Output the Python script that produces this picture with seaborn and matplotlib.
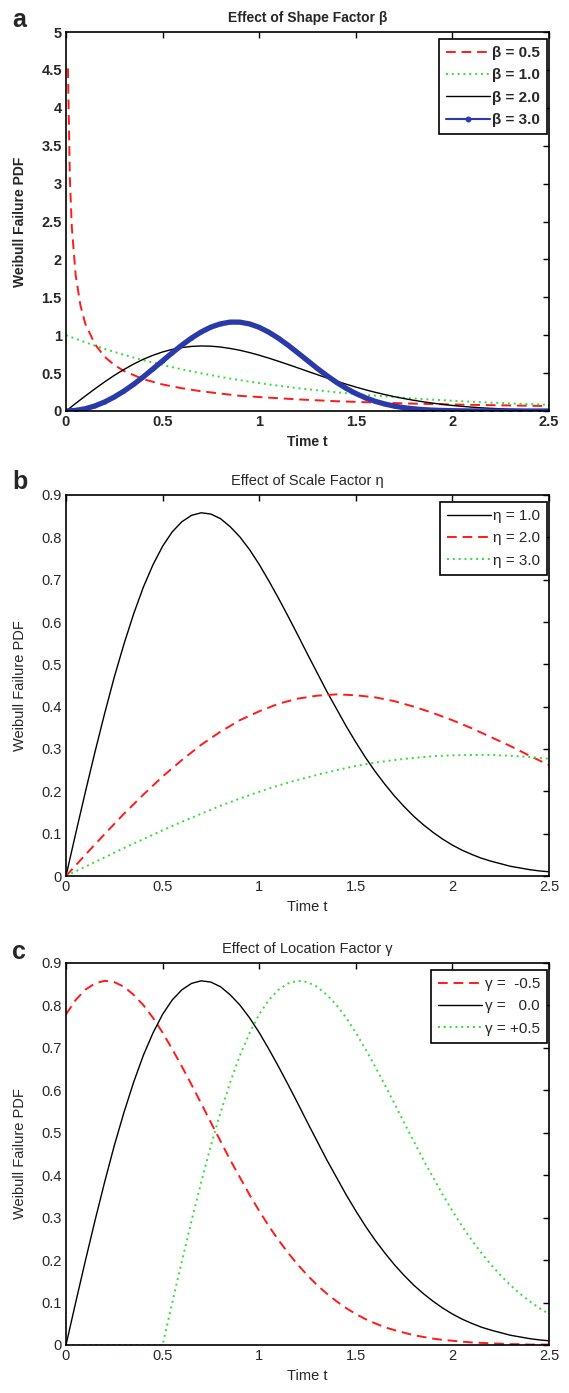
import matplotlib
matplotlib.use("Agg")
import matplotlib.pyplot as plt
import seaborn as sns
import numpy as np
from matplotlib.ticker import FuncFormatter

sns.set_style("white")
plt.rcParams['font.family'] = ['Liberation Sans', 'DejaVu Sans']

# Values (Weibull failure PDFs)
t = [0.0, 0.05, 0.1, 0.15, 0.2, 0.25, 0.3, 0.35, 0.4, 0.45, 0.5, 0.55, 0.6, 0.65, 0.7, 0.75,
     0.8, 0.85, 0.9, 0.95, 1.0, 1.05, 1.1, 1.15, 1.2, 1.25, 1.3, 1.35, 1.4, 1.45, 1.5, 1.55,
     1.6, 1.65, 1.7, 1.75, 1.8, 1.85, 1.9, 1.95, 2.0, 2.05, 2.1, 2.15, 2.2, 2.25, 2.3, 2.35,
     2.4, 2.45, 2.5]
t10 = [0.0, 0.1, 0.2, 0.3, 0.4, 0.5, 0.6, 0.7, 0.8, 0.9, 1.0, 1.1, 1.2,
       1.3, 1.4, 1.5, 1.6, 1.7, 1.8, 1.9, 2.0, 2.1, 2.2, 2.3, 2.4, 2.5]

# panel a: shape factor
t_b05 = [0.01, 0.02, 0.03, 0.05, 0.075, 0.1, 0.15, 0.2, 0.25, 0.3, 0.4, 0.5, 0.6,
         0.7, 0.8, 0.9, 1.0, 1.2, 1.4, 1.6, 1.8, 2.0, 2.2, 2.5]
pdf_b05 = [4.52, 3.07, 2.43, 1.79, 1.39, 1.15, 0.88, 0.715, 0.607, 0.528, 0.42, 0.35, 0.30,
           0.26, 0.23, 0.20, 0.184, 0.153, 0.129, 0.112, 0.097, 0.086, 0.077, 0.065]
pdf_b10 = [1.0, 0.905, 0.819, 0.741, 0.670, 0.607, 0.549, 0.497, 0.449, 0.407, 0.368, 0.333, 0.301,
           0.273, 0.247, 0.223, 0.202, 0.183, 0.165, 0.150, 0.135, 0.122, 0.111, 0.100, 0.091, 0.082]
pdf_b20 = [0.0, 0.100, 0.198, 0.293, 0.384, 0.470, 0.548, 0.619, 0.682, 0.735, 0.779, 0.813, 0.837,
           0.852, 0.858, 0.855, 0.844, 0.825, 0.801, 0.771, 0.736, 0.697, 0.656, 0.613, 0.569, 0.524,
           0.480, 0.436, 0.395, 0.354, 0.316, 0.280, 0.247, 0.217, 0.189, 0.164, 0.141, 0.121, 0.103,
           0.087, 0.073, 0.061, 0.051, 0.042, 0.035, 0.029, 0.023, 0.019, 0.015, 0.012, 0.010]
pdf_b30 = [0.0, 0.008, 0.030, 0.067, 0.119, 0.185, 0.263, 0.352, 0.450, 0.555, 0.662, 0.768, 0.870,
           0.963, 1.043, 1.107, 1.150, 1.173, 1.172, 1.149, 1.104, 1.039, 0.959, 0.867, 0.767, 0.665,
           0.563, 0.467, 0.378, 0.299, 0.231, 0.174, 0.128, 0.092, 0.064, 0.043, 0.029, 0.018, 0.011,
           0.007, 0.004, 0.002, 0.001, 0.001, 0.0, 0.0, 0.0, 0.0, 0.0, 0.0, 0.0]

# panel b: scale factor
pdf_e1 = pdf_b20
pdf_e2 = [0.0, 0.050, 0.099, 0.147, 0.192, 0.235, 0.274, 0.310, 0.341, 0.368, 0.389, 0.407, 0.419,
          0.426, 0.429, 0.427, 0.422, 0.413, 0.400, 0.385, 0.368, 0.349, 0.328, 0.307, 0.284, 0.262]
pdf_e3 = [0.0, 0.022, 0.044, 0.066, 0.087, 0.108, 0.128, 0.147, 0.166, 0.183, 0.199, 0.214, 0.227,
          0.239, 0.250, 0.260, 0.268, 0.274, 0.279, 0.283, 0.285, 0.286, 0.286, 0.284, 0.281, 0.277]

# panel c: location factor
pdf_gm = [0.779, 0.813, 0.837, 0.852, 0.858, 0.855, 0.844, 0.825, 0.801, 0.771, 0.736, 0.697, 0.656,
          0.613, 0.569, 0.524, 0.480, 0.436, 0.395, 0.354, 0.316, 0.280, 0.247, 0.217, 0.189, 0.164,
          0.141, 0.121, 0.103, 0.087, 0.073, 0.061, 0.051, 0.042, 0.035, 0.029, 0.023, 0.019, 0.015,
          0.012, 0.010, 0.008, 0.006, 0.005, 0.004, 0.003, 0.002, 0.002, 0.001, 0.001, 0.001]
pdf_g0 = pdf_b20
pdf_gp = [0.0, 0.0, 0.0, 0.0, 0.0, 0.0, 0.0, 0.0, 0.0, 0.0, 0.0, 0.100, 0.198,
          0.293, 0.384, 0.470, 0.548, 0.619, 0.682, 0.735, 0.779, 0.813, 0.837, 0.852, 0.858, 0.855,
          0.844, 0.825, 0.801, 0.771, 0.736, 0.697, 0.656, 0.613, 0.569, 0.524, 0.480, 0.436, 0.395,
          0.354, 0.316, 0.280, 0.247, 0.217, 0.189, 0.164, 0.141, 0.121, 0.103, 0.087, 0.073]

red = '#ff1a1a'
green = '#33dd33'
blue = '#2a3aa8'
dash = (0, (5, 3))
dot = (0, (1, 2))

fig = plt.figure(figsize=(5.69, 13.93), dpi=100)
W, H = 569., 1393.
def add_axes(top, bottom, left=66, right=549):
    return fig.add_axes([left / W, 1 - bottom / H, (right - left) / W, (bottom - top) / H])

ax1 = add_axes(32, 411)
ax2 = add_axes(495, 876)
ax3 = add_axes(963, 1345)

fmt = FuncFormatter(lambda v, p: '%g' % v)

# Panel a
sns.lineplot(x=t_b05, y=pdf_b05, ax=ax1, color=red, lw=1.4, linestyle=dash, label=u'\u03b2 = 0.5')
sns.lineplot(x=t10, y=pdf_b10, ax=ax1, color=green, lw=1.4, linestyle=dot, label=u'\u03b2 = 1.0')
sns.lineplot(x=t, y=pdf_b20, ax=ax1, color='k', lw=1.0, label=u'\u03b2 = 2.0')
sns.lineplot(x=t, y=pdf_b30, ax=ax1, color=blue, lw=3.8, marker='.', ms=4, mec=blue,
             label=u'\u03b2 = 3.0')
ax1.set_ylim(0, 5)
ax1.set_yticks(np.arange(0, 5.01, 0.5))
ax1.set_title(u'Effect of Shape Factor \u03b2', fontsize=10, fontweight='bold', pad=7)
ax1.set_xlabel('Time t', fontsize=10, fontweight='bold', labelpad=4)
ax1.set_ylabel('Weibull Failure PDF', fontsize=10, fontweight='bold')

# Panel b
sns.lineplot(x=t, y=pdf_e1, ax=ax2, color='k', lw=1.0, label=u'\u03b7 = 1.0')
sns.lineplot(x=t10, y=pdf_e2, ax=ax2, color=red, lw=1.4, linestyle=dash, label=u'\u03b7 = 2.0')
sns.lineplot(x=t10, y=pdf_e3, ax=ax2, color=green, lw=1.4, linestyle=dot, label=u'\u03b7 = 3.0')
ax2.set_ylim(0, 0.9)
ax2.set_yticks(np.arange(0, 0.91, 0.1))
ax2.set_title(u'Effect of Scale Factor \u03b7', fontsize=10.5, pad=7)
ax2.set_xlabel('Time t', fontsize=10.5, labelpad=4)
ax2.set_ylabel('Weibull Failure PDF', fontsize=10.5)

# Panel c
sns.lineplot(x=t, y=pdf_gm, ax=ax3, color=red, lw=1.4, linestyle=dash, label=u'\u03b3 =  -0.5')
sns.lineplot(x=t, y=pdf_g0, ax=ax3, color='k', lw=1.0, label=u'\u03b3 =   0.0')
sns.lineplot(x=t, y=pdf_gp, ax=ax3, color=green, lw=1.4, linestyle=dot, label=u'\u03b3 = +0.5')
ax3.set_ylim(0, 0.9)
ax3.set_yticks(np.arange(0, 0.91, 0.1))
ax3.set_title(u'Effect of Location Factor \u03b3', fontsize=10.5, pad=7)
ax3.set_xlabel('Time t', fontsize=10.5, labelpad=4)
ax3.set_ylabel('Weibull Failure PDF', fontsize=10.5)

for ax in (ax1, ax2, ax3):
    ax.set_xlim(0, 2.5)
    ax.set_xticks(np.arange(0, 2.51, 0.5))
    ax.xaxis.set_major_formatter(fmt)
    ax.yaxis.set_major_formatter(fmt)
    ax.tick_params(direction='in', top=True, right=True, length=4, width=1,
                   labelsize=10.5, color='k', pad=3)
    ax.yaxis.set_label_coords(-0.08, 0.5)
    for s in ax.spines.values():
        s.set_color('k')
        s.set_linewidth(1.2)
    leg = ax.legend(loc='upper right', bbox_to_anchor=(1 - 2 / 483., 1 - 7 / 380.),
                    borderaxespad=0, fontsize=11, handlelength=2.9, handletextpad=0.15,
                    borderpad=0.45, labelspacing=0.55, fancybox=False,
                    edgecolor='k', framealpha=1)
    leg.get_frame().set_linewidth(1.2)

for lab in ax1.get_xticklabels() + ax1.get_yticklabels():
    lab.set_fontweight('bold')
leg1 = ax1.get_legend()
for txt in leg1.get_texts():
    txt.set_fontweight('bold')
leg1.legend_handles[3].set_linewidth(1.5)
leg1.legend_handles[3].set_markersize(7)

fig.text(12 / W, 1 - 8 / H, 'a', fontsize=18, fontweight='bold', va='top')
fig.text(12 / W, 1 - 470 / H, 'b', fontsize=18, fontweight='bold', va='top')
fig.text(12 / W, 1 - 940 / H, 'c', fontsize=18, fontweight='bold', va='top')

fig.savefig('out.png', dpi=100)
